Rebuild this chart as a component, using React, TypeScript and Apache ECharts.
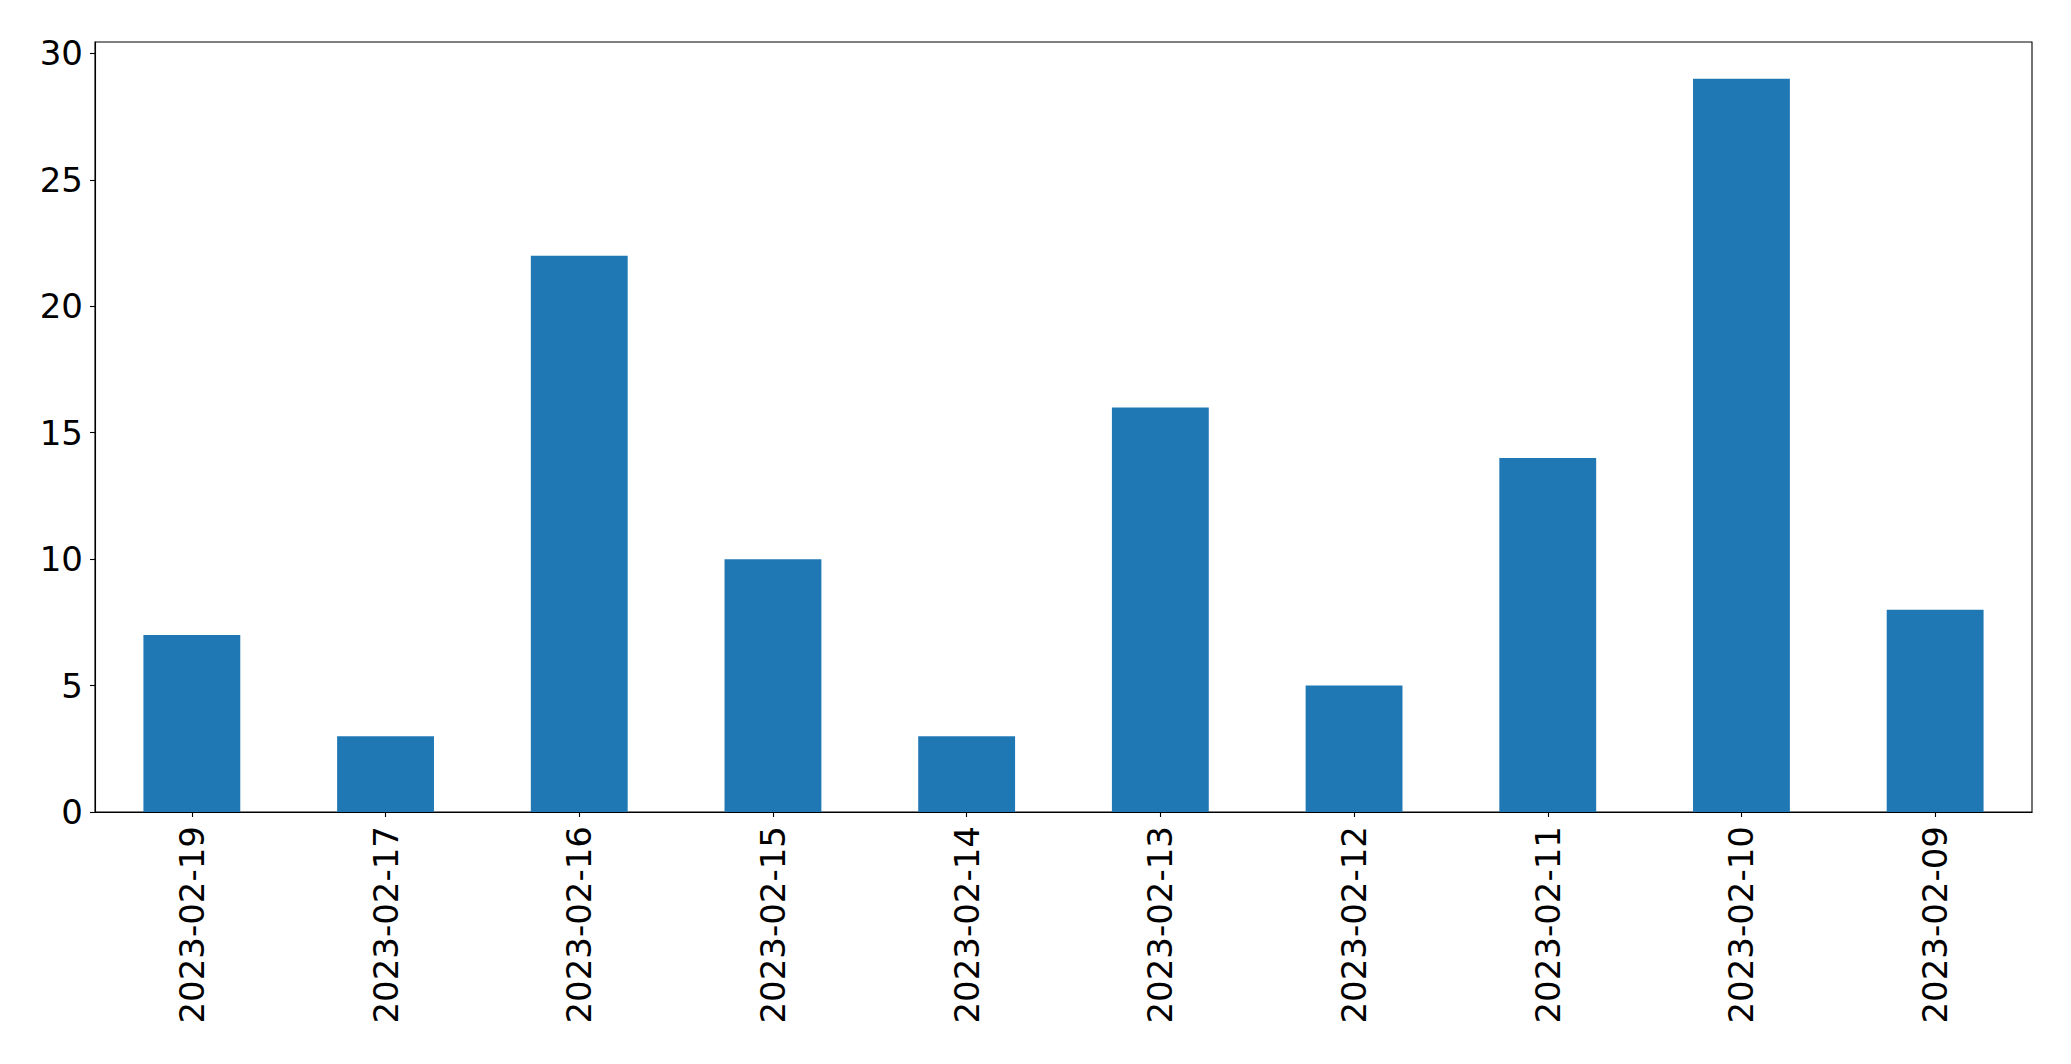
import React, { useEffect, useRef } from "react";
import * as echarts from "echarts";

const categories = [
  "2023-02-19",
  "2023-02-17",
  "2023-02-16",
  "2023-02-15",
  "2023-02-14",
  "2023-02-13",
  "2023-02-12",
  "2023-02-11",
  "2023-02-10",
  "2023-02-09",
];
const values = [7, 3, 22, 10, 3, 16, 5, 14, 29, 8];
const yTicks = [0, 5, 10, 15, 20, 25, 30];

export default function App() {
  const ref = useRef<HTMLDivElement>(null);
  useEffect(() => {
    if (!ref.current) return;
    const chart = echarts.init(ref.current, undefined, { renderer: "svg" });
    const font = "DejaVu Sans";
    chart.setOption({
      animation: false,
      backgroundColor: "#ffffff",
      grid: {
        left: 95,
        top: 42,
        right: 39,
        bottom: 252,
        show: true,
        borderColor: "#000000",
        borderWidth: 1.1,
        containLabel: false,
      },
      xAxis: {
        type: "category",
        data: categories,
        boundaryGap: true,
        axisLine: { show: true, lineStyle: { color: "#000000", width: 1.1 } },
        axisTick: {
          show: true,
          alignWithLabel: true,
          length: 5,
          lineStyle: { color: "#000000", width: 1.1 },
        },
        axisLabel: {
          rotate: 90,
          interval: 0,
          margin: 14,
          fontFamily: font,
          fontSize: 34,
          color: "#000000",
        },
        splitLine: { show: false },
      },
      yAxis: {
        type: "value",
        min: 0,
        max: 30.45,
        interval: 5,
        axisLine: { show: true, lineStyle: { color: "#000000", width: 1.1 } },
        axisTick: {
          show: true,
          length: 5,
          lineStyle: { color: "#000000", width: 1.1 },
        },
        axisLabel: {
          margin: 12,
          fontFamily: font,
          fontSize: 34,
          color: "#000000",
          showMaxLabel: false,
          formatter: (v: number) => (yTicks.includes(v) ? String(v) : ""),
        },
        splitLine: { show: false },
      },
      series: [
        {
          type: "bar",
          data: values,
          barWidth: "50%",
          itemStyle: { color: "#1f77b4" },
        },
      ],
    });
    return () => chart.dispose();
  }, []);
  return (
    <div
      ref={ref}
      style={{ position: "absolute", left: 0, top: 0, width: 2071, height: 1064 }}
    />
  );
}
